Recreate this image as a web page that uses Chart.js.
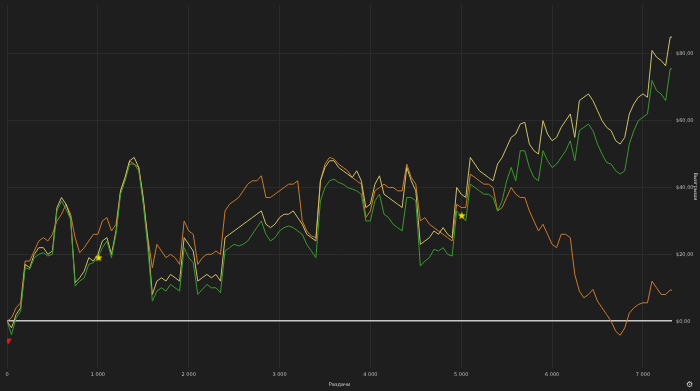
<!DOCTYPE html>
<html>
<head>
<meta charset="utf-8">
<script src="https://cdn.jsdelivr.net/npm/chart.js@4/dist/chart.umd.min.js"></script>
<style>
    body { margin: 0; background: #1e1e1e; }
    #wrap { position: relative; width: 700px; height: 391px; }
    #gear { position: absolute; left: 686px; top: 380px; font: 8px "DejaVu Sans"; color: #d0d0d0; }
</style>
</head>
<body>
<div id="wrap">
    <canvas id="grafico" width="700" height="391"></canvas>
    <span id="gear">⚙</span>
</div>
<script>
// Раздачи (ось X)
const hands = [
    0, 50, 100, 150, 200, 250, 300, 350, 400, 450, 500, 550, 600, 650, 700, 750, 800, 850, 900, 950,
    1000, 1050, 1100, 1150, 1200, 1250, 1300, 1350, 1400, 1450, 1500, 1550, 1600, 1650, 1700, 1750, 1800, 1850, 1900, 1950,
    2000, 2050, 2100, 2150, 2200, 2250, 2300, 2350, 2400, 2450, 2500, 2550, 2600, 2650, 2700, 2750, 2800, 2850, 2900, 2950,
    3000, 3050, 3100, 3150, 3200, 3250, 3300, 3350, 3400, 3450, 3500, 3550, 3600, 3650, 3700, 3750, 3800, 3850, 3900, 3950,
    4000, 4050, 4100, 4150, 4200, 4250, 4300, 4350, 4400, 4450, 4500, 4550, 4600, 4650, 4700, 4750, 4800, 4850, 4900, 4950,
    5000, 5050, 5100, 5150, 5200, 5250, 5300, 5350, 5400, 5450, 5500, 5550, 5600, 5650, 5700, 5750, 5800, 5850, 5900, 5950,
    6000, 6050, 6100, 6150, 6200, 6250, 6300, 6350, 6400, 6450, 6500, 6550, 6600, 6650, 6700, 6750, 6800, 6850, 6900, 6950,
    7000, 7050, 7100, 7150, 7200, 7250, 7300, 7320
];

// Выигрыши, $ (жёлтая линия)
const yellowSeries = [
    0, -2, 2, 4, 17, 16, 20, 22, 22, 20, 21, 34, 37, 35, 31, 11.5, 13, 15, 19, 18,
    20, 24, 25, 20, 27, 39, 43, 48, 49, 46, 37, 24, 8, 12, 13, 12, 14, 13, 12, 25,
    23, 21, 12, 13, 14, 13, 14, 12, 25, 26, 27, 28, 29, 30, 31, 32, 33, 29, 28, 29,
    31, 32, 32, 33, 31, 29, 26, 25, 24, 42, 46, 48, 48, 46, 45, 44, 43, 45, 42, 34,
    35, 41, 43.5, 38, 37, 36, 35, 34, 46, 42, 39, 23, 24, 25, 27, 26, 28, 26, 25, 40,
    38, 37, 49, 47, 45, 44, 43, 42, 47, 49, 52, 55, 56, 59, 59.5, 53, 51, 50, 60, 56,
    54, 55, 58, 60, 62, 55, 66, 67, 68, 66, 63, 60, 58, 57, 54, 53, 55, 62, 65, 67,
    68, 67, 81, 79, 78, 76.4, 85, 85
];

// Оранжевая линия
const orangeSeries = [
    0, 1, 4, 5.5, 18, 18, 21, 24, 25, 24, 26, 30, 32, 35, 32, 25, 20.5, 22, 24, 26,
    26, 30, 31, 27, 29, 39, 43, 48, 47, 46, 36, 25, 16, 23, 21, 19, 20, 19, 17, 30,
    27, 26, 17, 19, 20, 20, 21, 20, 33, 35, 36, 37, 39, 41, 42, 42, 43.5, 37, 37, 38,
    39, 40, 41, 41, 42, 30, 27, 25.5, 25, 42, 47, 49, 48.5, 47, 46, 45, 43, 42, 41, 31,
    33, 39, 40, 41, 40, 40, 39, 39, 47, 43, 41, 30, 31, 29, 28, 27, 26, 25, 24, 35,
    34, 34, 44, 43, 42, 41, 41, 40, 33, 34, 37, 40, 38, 37, 37, 33, 30, 27, 29, 26,
    23, 22, 26, 26, 25, 14, 9, 7, 8, 9.5, 6, 4, 2, 0, -3, -4.2, -2, 2.4, 4, 5,
    5.5, 5.5, 12, 10, 8, 8, 9.3, 9.3
];

// Зелёная линия
const greenSeries = [
    0, -4, 1, 3, 16, 15.5, 19, 20, 20.5, 19.5, 20, 33, 36, 33.5, 30.5, 10.5, 12, 13, 17, 17.5,
    19, 22, 24, 19, 26, 38, 42, 47, 47, 45, 35, 22, 6, 9, 10, 9, 11, 10, 9, 22,
    19, 17.5, 8, 9.5, 11, 10, 10, 8.5, 21, 22, 23, 22.5, 23, 24, 26, 28, 30, 26, 24, 25,
    27, 28, 28.5, 28, 27, 26, 23, 21, 19, 36, 40, 42, 42.5, 41.5, 41, 40, 39.5, 39, 38, 30,
    30, 36, 38, 32, 31, 29, 28, 27, 37, 37, 36, 16.5, 18, 19, 21.5, 21, 22, 20, 19.5, 33,
    31.5, 30, 41, 40, 39, 38, 38, 37, 33, 36, 42, 46, 42, 51, 51, 46, 43, 42, 51, 48,
    46, 47, 49, 51, 54, 48, 57, 58, 59, 57, 53, 50, 47.5, 47, 45, 44, 45, 53, 57, 60,
    61, 62, 72, 69, 68, 66, 75.5, 75.5
];

// Подписи делений
const xTicks = [0, 1000, 2000, 3000, 4000, 5000, 6000, 7000];
const yTicks = [0, 20, 40, 60, 80];

// Отметки на графике
const redMark = [{ x: 15, y: -5.8 }];
const starMarks = [{ x: 1009, y: 19 }, { x: 5006, y: 31.6 }];

const gridColor = "#2b2b2b";
const textColor = "#bdbdbd";

// Собрать точки {x, y} из массивов
function toPoints(values) {
    return hands.map((h, i) => ({ x: h, y: values[i] }));
}

// Маленькая жёлтая звезда для отметок
function makeStar() {
    const c = document.createElement("canvas");
    c.width = 9;
    c.height = 9;
    const g = c.getContext("2d");
    g.fillStyle = "#eedd00";
    g.beginPath();
    for (let i = 0; i < 10; i++) {
        const r = i % 2 === 0 ? 4 : 1.8;
        const a = -Math.PI / 2 + i * Math.PI / 5;
        const px = 4.5 + r * Math.cos(a);
        const py = 4.7 + r * Math.sin(a);
        if (i === 0) g.moveTo(px, py); else g.lineTo(px, py);
    }
    g.closePath();
    g.fill();
    return c;
}

function money(v) {
    return "$" + v.toFixed(2).replace(".", ",");
}

function thousands(v) {
    return String(v).replace(/\B(?=(\d{3})+(?!\d))/g, " ");
}

function lineSet(label, values, color, order) {
    return {
        label: label,
        data: toPoints(values),
        borderColor: color,
        borderWidth: 1,
        pointRadius: 0,
        tension: 0,
        fill: false,
        order: order
    };
}

function createChart() {
    const ctx = document.getElementById("grafico").getContext("2d");

    new Chart(ctx, {
        type: "line",
        data: {
            datasets: [
                {
                    type: "scatter",
                    data: starMarks,
                    pointStyle: makeStar(),
                    pointRadius: 4,
                    order: 0
                },
                {
                    type: "scatter",
                    data: redMark,
                    pointStyle: "triangle",
                    rotation: 180,
                    pointRadius: 3.2,
                    backgroundColor: "#e01818",
                    borderColor: "#e01818",
                    order: 0
                },
                lineSet("green", greenSeries, "#3b9a2e", 1),
                lineSet("yellow", yellowSeries, "#cdc26a", 2),
                lineSet("orange", orangeSeries, "#cc7a2c", 3)
            ]
        },
        options: {
            responsive: false,
            animation: false,
            layout: { padding: { left: 7, top: 0, right: 0, bottom: 0 } },
            plugins: {
                legend: { display: false },
                tooltip: { enabled: false }
            },
            scales: {
                x: {
                    type: "linear",
                    min: 0,
                    max: 7320,
                    border: { display: false },
                    grid: { color: gridColor, drawTicks: false },
                    afterBuildTicks: scale => { scale.ticks = xTicks.map(v => ({ value: v })); },
                    ticks: {
                        padding: 4,
                        color: textColor,
                        font: { size: 5, family: "DejaVu Sans" },
                        maxRotation: 0,
                        autoSkip: false,
                        callback: v => thousands(v)
                    },
                    title: {
                        display: true,
                        text: "Раздачи",
                        color: "#d0d0d0",
                        font: { size: 5, family: "DejaVu Sans" },
                        padding: { top: 0, bottom: 3 }
                    },
                    afterFit: scale => {
                        scale.height = 23;
                        scale.paddingLeft = 0;
                        scale.paddingRight = 0;
                    }
                },
                y: {
                    position: "right",
                    min: -14,
                    max: 94.6,
                    border: { display: false },
                    grid: {
                        drawTicks: false,
                        color: c => c.tick && c.tick.value === 0 ? "#c9c9c9" : gridColor,
                        lineWidth: c => c.tick && c.tick.value === 0 ? 1.6 : 1
                    },
                    afterBuildTicks: scale => { scale.ticks = yTicks.map(v => ({ value: v })); },
                    ticks: {
                        padding: 4,
                        color: textColor,
                        font: { size: 5, family: "DejaVu Sans" },
                        callback: v => money(v)
                    },
                    title: {
                        display: true,
                        text: "Выигрыши",
                        color: "#d0d0d0",
                        font: { size: 5, family: "DejaVu Sans" },
                        padding: 2
                    },
                    afterFit: scale => {
                        scale.width = 28;
                        scale.paddingTop = 0;
                        scale.paddingBottom = 0;
                    }
                }
            }
        }
    });
}

document.addEventListener("DOMContentLoaded", createChart);
</script>
</body>
</html>
